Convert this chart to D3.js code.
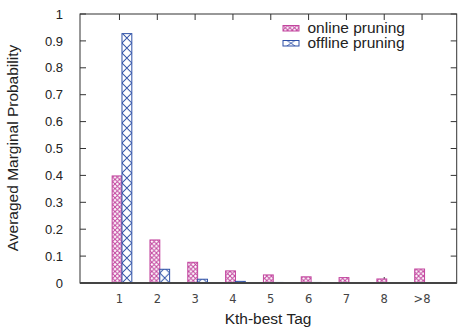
<!DOCTYPE html>
<html>
<head>
<meta charset="utf-8">
<script src="https://cdn.jsdelivr.net/npm/d3@7"></script>
<style>
  body { margin: 0; background: #fff; }
  svg { display: block; font-family: "Liberation Sans", Arial, sans-serif; }
</style>
</head>
<body>
<div id="chart"></div>
<script>
var categories = ["1", "2", "3", "4", "5", "6", "7", "8", ">8"];
var online = [0.398, 0.16, 0.077, 0.045, 0.030, 0.023, 0.020, 0.015, 0.052];
var offline = [0.927, 0.051, 0.014, 0.006, 0.002, 0.002, 0.001, 0.001, 0.001];
var yTicks = [0, 0.1, 0.2, 0.3, 0.4, 0.5, 0.6, 0.7, 0.8, 0.9, 1];
var seriesNames = ["online pruning", "offline pruning"];

var width = 458,
  height = 328;
var plotL = 80, plotR = 456.7, plotT = 14, plotB = 283;
var pink = "#c2449e", blue = "#2c4fa6";

var svg = d3.select("#chart").append("svg")
  .attr("width", width)
  .attr("height", height);

var x = d3.scaleLinear().domain([-0.11, 9.85]).range([plotL, plotR]);
var y = d3.scaleLinear().domain([0, 1]).range([plotB, plotT]);
var bw = 0.26;
var step = x(1) - x(0);
var bwPx = x(bw) - x(0);

var defs = svg.append("defs");

// dense crosshatch for online
var p1 = defs.append("pattern")
  .attr("id", "hatchOnline")
  .attr("patternUnits", "userSpaceOnUse")
  .attr("width", 4.6).attr("height", 4.6);
p1.append("rect").attr("width", 4.6).attr("height", 4.6).attr("fill", "#fff");
p1.append("path").attr("d", "M0,0L4.6,4.6M4.6,0L0,4.6")
  .attr("stroke", pink).attr("stroke-width", 1);

// big X per bar for offline
var p2 = defs.append("pattern")
  .attr("id", "hatchOffline")
  .attr("patternUnits", "userSpaceOnUse")
  .attr("x", x(1)).attr("y", plotB)
  .attr("width", step).attr("height", 10);
p2.append("rect").attr("width", step).attr("height", 10).attr("fill", "#fff");
p2.append("path").attr("d", "M0,0L" + bwPx + ",10M" + bwPx + ",0L0,10")
  .attr("stroke", blue).attr("stroke-width", 1);

var p3 = defs.append("pattern")
  .attr("id", "keyOffline")
  .attr("patternContentUnits", "objectBoundingBox")
  .attr("width", 1).attr("height", 1);
p3.append("rect").attr("width", 1).attr("height", 1).attr("fill", "#fff");
p3.append("path").attr("d", "M0.25,0L0.75,1M0.75,0L0.25,1")
  .attr("stroke", blue).attr("stroke-width", 0.08);

// frame
svg.append("rect")
  .attr("x", plotL).attr("y", plotT)
  .attr("width", plotR - plotL).attr("height", plotB - plotT)
  .attr("fill", "none").attr("stroke", "#333").attr("stroke-width", 1);

// y ticks both sides
var yt = svg.append("g").selectAll("g").data(yTicks).enter().append("g");
yt.append("line")
  .attr("x1", plotL).attr("x2", plotL + 6)
  .attr("y1", function (d) { return y(d); }).attr("y2", function (d) { return y(d); })
  .attr("stroke", "#333");
yt.append("line")
  .attr("x1", plotR).attr("x2", plotR - 6)
  .attr("y1", function (d) { return y(d); }).attr("y2", function (d) { return y(d); })
  .attr("stroke", "#333");
yt.append("text")
  .attr("x", 63)
  .attr("y", function (d) { return y(d); })
  .attr("dy", "0.36em")
  .attr("text-anchor", "end")
  .attr("font-size", 13)
  .attr("fill", "#222")
  .text(function (d) { return d3.format("")(+d.toFixed(1)); });

// x ticks top and bottom
var xt = svg.append("g").attr("transform", "translate(-2.5,0)")
  .selectAll("g").data(categories).enter().append("g");
xt.append("line")
  .attr("x1", function (d, i) { return x(i + 1); }).attr("x2", function (d, i) { return x(i + 1); })
  .attr("y1", plotB).attr("y2", plotB - 6)
  .attr("stroke", "#333");
xt.append("line")
  .attr("x1", function (d, i) { return x(i + 1); }).attr("x2", function (d, i) { return x(i + 1); })
  .attr("y1", plotT).attr("y2", plotT + 6)
  .attr("stroke", "#333");
xt.append("text")
  .attr("x", function (d, i) { return x(i + 1); })
  .attr("y", 303)
  .attr("text-anchor", "middle")
  .attr("font-family", "DejaVu Sans")
  .attr("font-size", 11.5)
  .attr("fill", "#444")
  .text(function (d) { return d; });

// bars
svg.append("g").selectAll("rect").data(online).enter().append("rect")
  .attr("x", function (d, i) { return x(i + 1 - bw); })
  .attr("y", function (d) { return y(d); })
  .attr("width", bwPx)
  .attr("height", function (d) { return plotB - y(d); })
  .attr("fill", "url(#hatchOnline)")
  .attr("stroke", pink).attr("stroke-width", 1);

svg.append("g").selectAll("rect").data(offline).enter().append("rect")
  .attr("x", function (d, i) { return x(i + 1); })
  .attr("y", function (d) { return y(d); })
  .attr("width", bwPx)
  .attr("height", function (d) { return plotB - y(d); })
  .attr("fill", "url(#hatchOffline)")
  .attr("stroke", blue).attr("stroke-width", 1);

// bottom axis line (heavier)
svg.append("line")
  .attr("x1", plotL).attr("x2", plotR)
  .attr("y1", plotB).attr("y2", plotB)
  .attr("stroke", "#444").attr("stroke-width", 2);

// legend
var legend = svg.append("g").selectAll("g").data(seriesNames).enter().append("g")
  .attr("transform", function (d, i) { return "translate(283," + (25.5 + i * 15) + ")"; });
legend.append("rect")
  .attr("width", 16).attr("height", 5.5)
  .attr("fill", function (d, i) { return i == 0 ? "url(#hatchOnline)" : "url(#keyOffline)"; })
  .attr("stroke", function (d, i) { return i == 0 ? pink : blue; })
  .attr("stroke-width", 1);
legend.append("text")
  .attr("x", 24.5).attr("y", 7.5)
  .attr("font-size", 15.5)
  .attr("fill", "#222")
  .text(function (d) { return d; });

// axis titles
svg.append("text")
  .attr("x", 268).attr("y", 324)
  .attr("text-anchor", "middle")
  .attr("font-size", 15.5)
  .attr("fill", "#222")
  .text("Kth-best Tag");

svg.append("text")
  .attr("transform", "translate(18,148)rotate(-90)")
  .attr("text-anchor", "middle")
  .attr("font-size", 15.5)
  .attr("fill", "#222")
  .text("Averaged Marginal Probability");
</script>
</body>
</html>
